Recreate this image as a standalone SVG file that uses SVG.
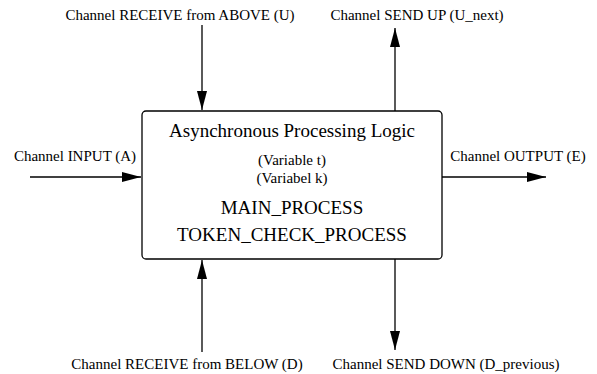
<svg xmlns="http://www.w3.org/2000/svg" width="597" height="374" viewBox="0 0 597 374">
<style>
text{font-family:"Liberation Serif","Times New Roman",serif;fill:#000;text-anchor:middle}
.lbl{font-size:15px}
.big{font-size:19px}
.conn line{stroke:#000;stroke-width:1.3;fill:none}
</style>
<defs>
<marker id="ah" markerUnits="userSpaceOnUse" markerWidth="20" markerHeight="12" refX="19" refY="5" orient="auto">
<path d="M0,0 L19,5 L0,10 z" fill="#000"/>
</marker>
</defs>
<g id="processor">
<rect x="142" y="111" width="300" height="148" rx="4" fill="#fff" stroke="#000" stroke-width="1.3"/>
<text class="big" x="292" y="137">Asynchronous Processing Logic</text>
<text class="lbl" x="292" y="165">(Variable t)</text>
<text class="lbl" x="292" y="183">(Variabel k)</text>
<text class="big" x="292" y="214">MAIN_PROCESS</text>
<text class="big" x="292" y="241">TOKEN_CHECK_PROCESS</text>
</g>
<g id="labels">
<text class="lbl" x="180" y="20">Channel RECEIVE from ABOVE (U)</text>
<text class="lbl" x="417" y="20">Channel SEND UP (U_next)</text>
<text class="lbl" x="75" y="161">Channel INPUT (A)</text>
<text class="lbl" x="518" y="161">Channel OUTPUT (E)</text>
<text class="lbl" x="187" y="369">Channel RECEIVE from BELOW (D)</text>
<text class="lbl" x="446" y="369">Channel SEND DOWN (D_previous)</text>
</g>
<g id="connectors" class="conn">
<line x1="202" y1="25" x2="202" y2="110" marker-end="url(#ah)"/>
<line x1="395" y1="111" x2="395" y2="28" marker-end="url(#ah)"/>
<line x1="30" y1="177" x2="141" y2="177" marker-end="url(#ah)"/>
<line x1="442" y1="177" x2="546" y2="177" marker-end="url(#ah)"/>
<line x1="202" y1="352" x2="202" y2="260" marker-end="url(#ah)"/>
<line x1="395" y1="259" x2="395" y2="350" marker-end="url(#ah)"/>
</g>
</svg>
